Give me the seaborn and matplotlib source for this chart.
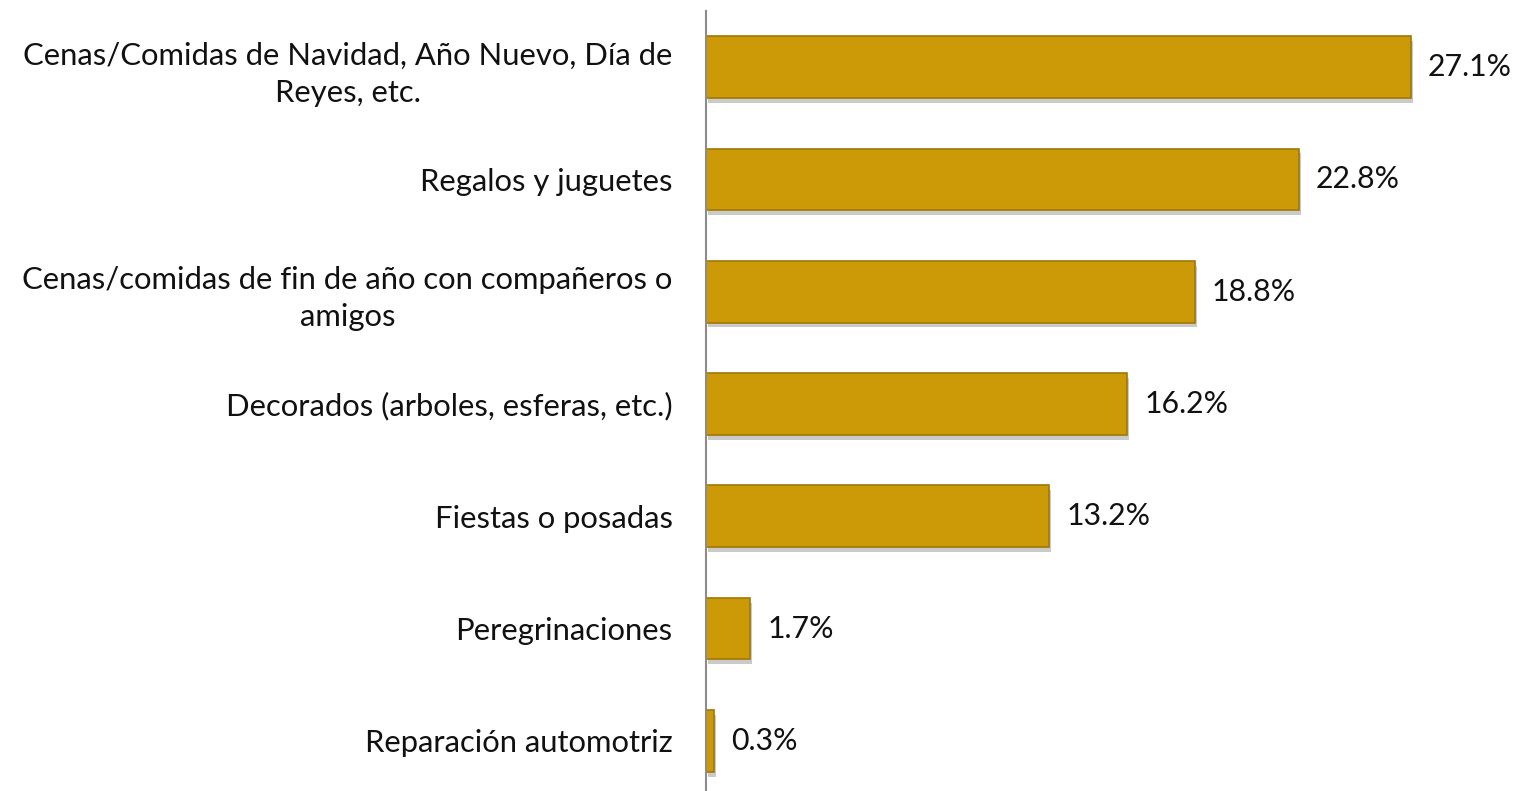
import matplotlib
matplotlib.use("Agg")
import matplotlib.pyplot as plt
import matplotlib.patheffects as pe
import seaborn as sns
import pandas as pd

# Data
categories = [
    "Cenas/Comidas de Navidad, Año Nuevo, Día de\nReyes, etc.",
    "Regalos y juguetes",
    "Cenas/comidas de fin de año con compañeros o\namigos",
    "Decorados (arboles, esferas, etc.)",
    "Fiestas o posadas",
    "Peregrinaciones",
    "Reparación automotriz",
]
values = [27.1, 22.8, 18.8, 16.2, 13.2, 1.7, 0.3]

df = pd.DataFrame({"categoria": categories, "pct": values})

sns.set_style("white")
plt.rcParams['font.family'] = ['Lato', 'DejaVu Sans']

fig = plt.figure(figsize=(15.19, 7.91), dpi=100)
ax = fig.add_axes([706 / 1519, -6 / 791, 780 / 1519, 786 / 791])

sns.barplot(data=df, x="pct", y="categoria", orient="h", color="#CC9A06",
            saturation=1, width=0.55, edgecolor="#A07804", linewidth=1.2, ax=ax)

# soft drop shadow like the original bevelled bars
for bar in ax.patches:
    bar.set_path_effects([pe.SimplePatchShadow(offset=(1.5, -3.5), shadow_rgbFace="#8a8a8a", alpha=0.45),
                          pe.Normal()])

for i, v in enumerate(values):
    ax.text(v + 0.65, i, f"{v:.1f}%", va="center", ha="left", fontsize=21.8, color="#111111")

ax.set_xlim(0, 30)
ax.set_ylim(len(values) - 0.5, -0.5)
ax.set_xlabel("")
ax.set_ylabel("")
ax.set_xticks([])
ax.tick_params(axis="y", length=0, pad=24, labelsize=22.3, labelcolor="#111111")
for lbl in ax.get_yticklabels():
    lbl.set_multialignment("center")
    lbl.set_linespacing(1.4)

sns.despine(ax=ax, top=True, right=True, bottom=True, left=False)
ax.spines["left"].set_color("#8c8c8c")
ax.spines["left"].set_linewidth(1.5)
ax.patch.set_alpha(0)

fig.savefig("out.png", dpi=100, facecolor="white")
